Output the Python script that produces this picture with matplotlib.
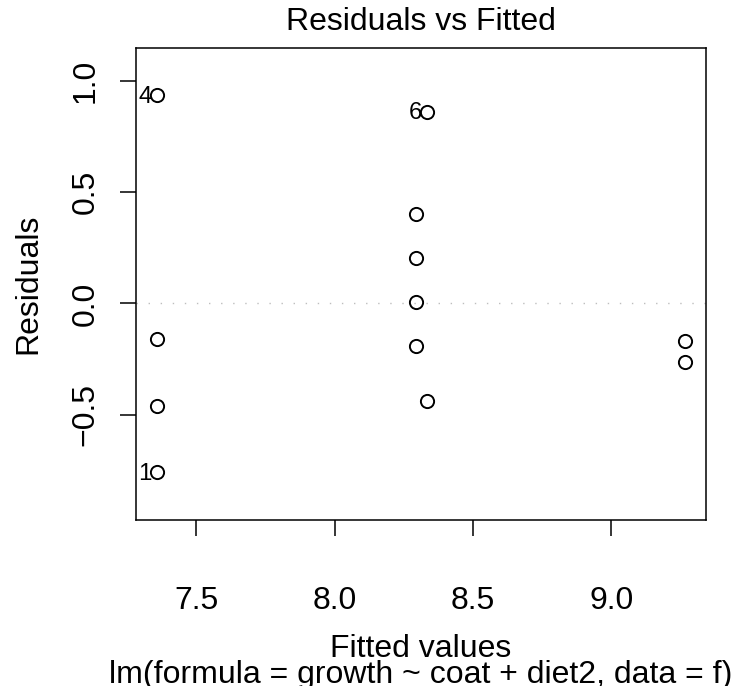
import matplotlib
matplotlib.use("Agg")
import matplotlib.pyplot as plt

# Fitted values and residuals of lm(growth ~ coat + diet2, data = f)
obs_id = [1, 2, 3, 4, 5, 6, 7, 8, 9, 10, 11, 12]
fitted = [7.359, 7.359, 7.359, 7.359, 8.293, 8.335, 8.293, 8.293, 8.293, 8.335, 9.265, 9.265]
resid = [-0.759, -0.460, -0.160, 0.935, 0.401, 0.862, 0.203, 0.007, -0.190, -0.437, -0.168, -0.265]
flagged = [4, 6, 1]

x_ticks = [7.5, 8.0, 8.5, 9.0]
y_ticks = [-0.5, 0.0, 0.5, 1.0]
title = "Residuals vs Fitted"
x_label = "Fitted values"
y_label = "Residuals"
caption = "lm(formula = growth ~ coat + diet2, data = f)"

plt.rcParams["font.family"] = ["Liberation Sans", "DejaVu Sans"]
FS = 23

fig = plt.figure(figsize=(7.36, 6.86), dpi=100)
ax = fig.add_axes([0.1848, 0.2420, 0.9592 - 0.1848, 0.9305 - 0.2420])

# axis ranges: residual range widened by 8% (room for labels), then 4% padding
rmin, rmax = min(resid), max(resid)
rr = rmax - rmin
ylo, yhi = rmin - 0.08 * rr, rmax + 0.08 * rr
yr = yhi - ylo
ax.set_ylim(ylo - 0.04 * yr, yhi + 0.04 * yr)
fmin, fmax = min(fitted), max(fitted)
fr = fmax - fmin
ax.set_xlim(fmin - 0.04 * fr, fmax + 0.04 * fr)

ax.axhline(0, color="#bebebe", lw=1.0, linestyle=(0, (1, 7.7)), zorder=1)

ax.plot(fitted, resid, linestyle="none", marker="o", markersize=9.5,
        markerfacecolor="none", markeredgecolor="black", markeredgewidth=1.4,
        zorder=3)

for i in flagged:
    k = obs_id.index(i)
    ax.annotate(str(i), (fitted[k], resid[k]), xytext=(-4, -1),
                textcoords="offset points", ha="right", va="center",
                fontsize=FS * 0.75)

ax.set_xticks(x_ticks)
ax.set_xticklabels([f"{v:.1f}" for v in x_ticks])
ax.set_yticks(y_ticks)
ax.set_yticklabels([f"{v:.1f}".replace("-", "\u2212") for v in y_ticks],
                   rotation=90, va="center")
ax.tick_params(axis="both", direction="out", length=11.5, width=1.1,
               labelsize=FS)
ax.tick_params(axis="x", pad=36)
ax.tick_params(axis="y", pad=14)

for s in ax.spines.values():
    s.set_linewidth(1.1)

xc = 0.5 * (0.1848 + 0.9592)
fig.text(xc, 1 - 22 / 686, title, ha="center", va="center", fontsize=FS)
fig.text(xc, 1 - 649 / 686, x_label, ha="center", va="center", fontsize=FS)
fig.text(xc, 1 - 675 / 686, caption, ha="center", va="center", fontsize=FS)
fig.text(28 / 736, 0.5 * (0.2420 + 0.9305), y_label, ha="center",
         va="center", rotation=90, fontsize=FS)

fig.savefig("out.png", dpi=100, facecolor="white")
